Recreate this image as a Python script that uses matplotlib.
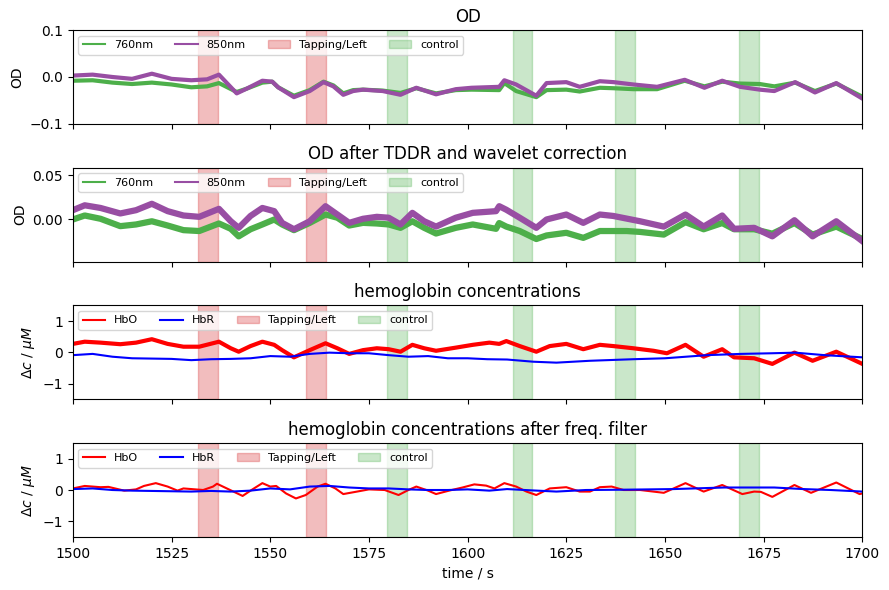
import matplotlib
matplotlib.use("Agg")
import matplotlib.pyplot as plt
from matplotlib.lines import Line2D
from matplotlib.patches import Patch

# stimulus onsets (s), duration 5 s
tapping_onsets = [1531.7, 1559.1]
control_onsets = [1579.6, 1611.4, 1637.4, 1668.8]
stim_duration = 5.0

# raw OD
t_od = [1500, 1505, 1510, 1515, 1520, 1525, 1530, 1534, 1537, 1541.5, 1544, 1548,
        1550.5, 1552, 1556, 1560, 1563.5, 1566, 1568.5, 1571, 1573.5, 1578.5, 1583,
        1587, 1592, 1597, 1601, 1608, 1609.3, 1612.3, 1617.4, 1620, 1625, 1628.4,
        1633.5, 1637, 1642, 1648, 1655, 1660, 1664.5, 1669, 1674, 1677.7, 1683,
        1688, 1693.4, 1700]
od_760 = [-0.008, -0.007, -0.012, -0.015, -0.012, -0.016, -0.022, -0.020, -0.013,
          -0.032, -0.025, -0.012, -0.010, -0.022, -0.040, -0.028, -0.010, -0.018,
          -0.035, -0.028, -0.027, -0.029, -0.034, -0.024, -0.035, -0.028, -0.027,
          -0.028, -0.013, -0.030, -0.043, -0.028, -0.027, -0.031, -0.023, -0.024,
          -0.026, -0.026, -0.008, -0.020, -0.010, -0.014, -0.015, -0.020, -0.012,
          -0.030, -0.014, -0.042]
od_850 = [0.003, 0.005, 0.000, -0.004, 0.007, -0.004, -0.007, -0.005, 0.005,
          -0.035, -0.025, -0.008, -0.010, -0.022, -0.043, -0.030, -0.011, -0.020,
          -0.038, -0.030, -0.027, -0.030, -0.038, -0.023, -0.037, -0.026, -0.023,
          -0.021, -0.007, -0.016, -0.040, -0.013, -0.011, -0.021, -0.009, -0.011,
          -0.016, -0.021, -0.006, -0.023, -0.008, -0.021, -0.027, -0.030, -0.011,
          -0.033, -0.013, -0.046]

# OD after TDDR + wavelet
t_odc = [1500, 1503, 1507, 1512, 1516, 1520, 1524, 1528, 1532, 1537, 1540, 1542,
         1545, 1548, 1551, 1553, 1556, 1560, 1564, 1567, 1570, 1573.5, 1577, 1580,
         1583, 1586, 1589, 1592, 1597, 1601.3, 1607.2, 1608, 1609.8, 1613.2, 1617.4,
         1620, 1625, 1629.3, 1633.5, 1636.9, 1640.3, 1643.7, 1649.7, 1655.2, 1659.8,
         1664.5, 1667.5, 1672.6, 1677.2, 1682.8, 1687.4, 1693.4, 1700]
odc_760 = [0.0, 0.0045, 0.0008, -0.0075, -0.0056, -0.002, -0.0068, -0.012, -0.013,
           -0.0045, -0.0105, -0.019, -0.011, -0.0056, 0.0, -0.0056, -0.012, -0.0038,
           0.0056, 0.002, -0.0068, -0.0038, -0.0045, -0.0056, -0.0094, -0.002,
           -0.0094, -0.0158, -0.0094, -0.0056, -0.0105, -0.004, -0.008, -0.013,
           -0.022, -0.018, -0.015, -0.0207, -0.013, -0.013, -0.013, -0.014, -0.017,
           -0.003, -0.011, -0.004, -0.011, -0.011, -0.016, -0.004, -0.017, -0.008,
           -0.022]
odc_850 = [0.0105, 0.016, 0.013, 0.0068, 0.0105, 0.0177, 0.0094, 0.0045, 0.003,
           0.012, -0.002, -0.0094, 0.004, 0.013, 0.0094, -0.0038, -0.011, -0.002,
           0.015, 0.0056, -0.0038, 0.0008, 0.003, 0.002, -0.0056, 0.0075, -0.002,
           -0.008, 0.002, 0.0075, 0.0094, 0.015, 0.011, 0.002, -0.0094, 0.0, 0.0056,
           -0.0038, 0.0056, 0.004, 0.001, -0.002, -0.008, 0.0056, -0.008, 0.0045,
           -0.0105, -0.0094, -0.019, -0.0008, -0.019, -0.002, -0.0244]

# hemoglobin concentrations (uM)
t_hbo = [1500, 1503, 1507, 1512, 1516, 1520, 1524, 1528, 1532, 1537, 1540, 1542,
         1545, 1548, 1551, 1553, 1556, 1560, 1564, 1567, 1570, 1573.5, 1577, 1580,
         1583, 1586, 1589, 1592, 1597, 1601.3, 1605.5, 1608, 1609.8, 1613.2, 1617.4,
         1620.8, 1625, 1629.3, 1633.5, 1636.9, 1642, 1647.1, 1650.5, 1655.2, 1659.8,
         1664.5, 1667.5, 1672.6, 1677.2, 1682.8, 1687.4, 1693.4, 1700]
hbo = [0.27, 0.34, 0.31, 0.26, 0.31, 0.42, 0.27, 0.18, 0.18, 0.34, 0.13, 0.02,
       0.20, 0.34, 0.24, 0.07, -0.16, 0.07, 0.29, 0.13, -0.05, 0.07, 0.13, 0.10,
       0.02, 0.24, 0.13, 0.05, 0.15, 0.24, 0.31, 0.27, 0.36, 0.20, 0.02, 0.20,
       0.27, 0.10, 0.24, 0.20, 0.13, 0.05, -0.03, 0.24, -0.14, 0.10, -0.16, -0.19,
       -0.37, -0.01, -0.27, 0.02, -0.37]
t_hbr = [1500, 1505, 1510, 1515, 1520, 1525, 1530, 1535, 1540, 1545, 1550, 1555,
         1560, 1565, 1570, 1575, 1580, 1585, 1590, 1595, 1600, 1605, 1610, 1616.6,
         1622.5, 1631, 1642, 1650, 1660.7, 1669.2, 1677, 1683, 1690.4, 1700]
hbr = [-0.09, -0.05, -0.14, -0.19, -0.20, -0.21, -0.25, -0.22, -0.21, -0.19, -0.12,
       -0.14, -0.05, -0.01, -0.03, -0.03, -0.09, -0.14, -0.12, -0.19, -0.19, -0.22,
       -0.23, -0.30, -0.33, -0.27, -0.22, -0.19, -0.09, -0.05, -0.03, -0.01, -0.09,
       -0.16]

# after frequency filter
t_hbo_f = [1500, 1503, 1507, 1509, 1513, 1516, 1518, 1521, 1524, 1526.5, 1528, 1531,
           1533, 1535.5, 1536.5, 1539, 1543, 1545, 1548, 1550, 1551.5, 1554, 1556.5,
           1559, 1562, 1564, 1566.5, 1568.5, 1572, 1575, 1579, 1582.5, 1585, 1587,
           1590, 1592, 1595.3, 1598.7, 1601.7, 1604.7, 1606.8, 1609.3, 1612.3,
           1614.9, 1617.4, 1620.8, 1625, 1628.4, 1631, 1633.5, 1636.5, 1639.5,
           1643.7, 1649.7, 1655.2, 1659.8, 1664.5, 1669.6, 1672.6, 1674.3, 1677.2,
           1682.8, 1687, 1693.4, 1699.3, 1700]
hbo_f = [0.05, 0.13, 0.09, 0.10, -0.02, 0.02, 0.13, 0.22, 0.11, -0.02, 0.05, 0.02,
         0.0, 0.11, 0.20, 0.05, -0.19, -0.02, 0.22, 0.11, 0.13, -0.11, -0.27, -0.16,
         0.11, 0.20, 0.05, -0.13, -0.05, 0.02, 0.0, -0.16, 0.0, 0.11, -0.02, -0.13,
         -0.02, 0.08, 0.18, 0.14, 0.05, 0.22, 0.11, -0.05, -0.16, 0.05, 0.09, -0.05,
         -0.05, 0.09, 0.11, 0.0, 0.0, -0.09, 0.22, -0.05, 0.16, -0.13, -0.05, -0.06,
         -0.22, 0.16, -0.09, 0.24, -0.13, -0.11]
t_hbr_f = [1500, 1505, 1510, 1515, 1520, 1525, 1530, 1535, 1540, 1545, 1550, 1555,
           1560, 1565, 1570, 1575, 1580, 1585, 1590, 1595, 1600, 1605.5, 1610, 1616,
           1622.5, 1630, 1640, 1652.2, 1665, 1677.7, 1685, 1692, 1700]
hbr_f = [0.03, 0.05, 0.0, -0.02, -0.03, -0.04, -0.05, -0.03, -0.05, -0.02, 0.05,
         0.02, 0.11, 0.13, 0.08, 0.05, 0.05, 0.02, 0.0, 0.0, 0.02, -0.02, 0.03,
         -0.01, -0.05, 0.0, 0.01, 0.03, 0.08, 0.08, 0.03, 0.0, -0.05]

c760, c850 = "#4daf4a", "#984ea3"
c_tap, c_ctrl = "#d62728", "#2ca02c"


def add_stims(ax):
    for t in tapping_onsets:
        ax.axvspan(t, t + stim_duration, color=c_tap, alpha=0.3)
    for t in control_onsets:
        ax.axvspan(t, t + stim_duration, color=c_ctrl, alpha=0.25)


def add_legend(ax, names, colors):
    handles = [Line2D([], [], color=c, lw=1.5) for c in colors]
    handles += [Patch(color=c_tap, alpha=0.3), Patch(color=c_ctrl, alpha=0.25)]
    ax.legend(handles, names + ["Tapping/Left", "control"], ncol=4,
              loc="upper left", fontsize=8)


fig, axes = plt.subplots(4, 1, figsize=(8.89, 5.9), dpi=100, sharex=True)
fig.subplots_adjust(left=0.082, right=0.97, top=0.949, bottom=0.09, hspace=0.468)

ax = axes[0]
ax.plot(t_od, od_760, color=c760, lw=3, solid_joinstyle="round")
ax.plot(t_od, od_850, color=c850, lw=3, solid_joinstyle="round")
add_stims(ax)
ax.set_ylim(-0.1, 0.1)
ax.set_ylabel("OD")
ax.set_title("OD")
add_legend(ax, ["760nm", "850nm"], [c760, c850])

ax = axes[1]
ax.plot(t_odc, odc_760, color=c760, lw=4.5, solid_joinstyle="round")
ax.plot(t_odc, odc_850, color=c850, lw=4.5, solid_joinstyle="round")
add_stims(ax)
ax.set_ylim(-0.0474, 0.0583)
ax.set_ylabel("OD")
ax.set_title("OD after TDDR and wavelet correction")
add_legend(ax, ["760nm", "850nm"], [c760, c850])

ax = axes[2]
ax.plot(t_hbo, hbo, color="r", lw=3, solid_joinstyle="round")
ax.plot(t_hbr, hbr, color="b", lw=1.5)
add_stims(ax)
ax.set_ylim(-1.5, 1.5)
ax.set_ylabel(r"$\Delta c$ / $\mu M$")
ax.set_title("hemoglobin concentrations")
add_legend(ax, ["HbO", "HbR"], ["r", "b"])

ax = axes[3]
ax.plot(t_hbo_f, hbo_f, color="r", lw=1.5)
ax.plot(t_hbr_f, hbr_f, color="b", lw=1.5)
add_stims(ax)
ax.set_ylim(-1.5, 1.5)
ax.set_ylabel(r"$\Delta c$ / $\mu M$")
ax.set_title("hemoglobin concentrations after freq. filter")
add_legend(ax, ["HbO", "HbR"], ["r", "b"])
ax.set_xlim(1500, 1700)
ax.set_xlabel("time / s")

plt.savefig("out.png")
plt.close()
